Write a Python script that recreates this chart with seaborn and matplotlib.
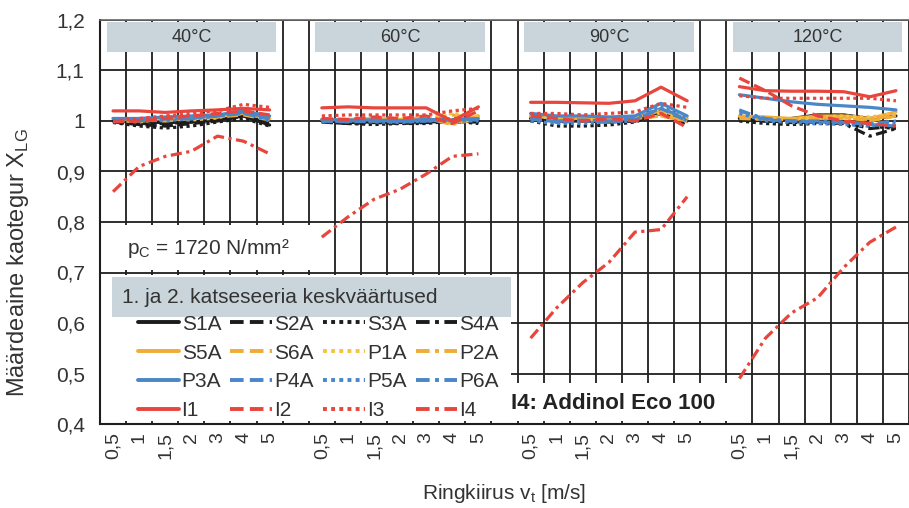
import numpy as np
import pandas as pd
import seaborn as sns
import matplotlib.pyplot as plt
from matplotlib.patches import Rectangle
from matplotlib.lines import Line2D

temps = ["40°C", "60°C", "90°C", "120°C"]
speeds = ["0,5", "1", "1,5", "2", "3", "4", "5"]
y_ticks = [0.4, 0.5, 0.6, 0.7, 0.8, 0.9, 1.0, 1.1, 1.2]
y_labels = ["0,4", "0,5", "0,6", "0,7", "0,8", "0,9", "1", "1,1", "1,2"]

# values: 7 speeds at 40, 60, 90, 120 °C
s1a = [1.0, 0.998, 0.997, 0.998, 1.002, 1.01, 0.992,
       1.0, 0.998, 0.998, 0.998, 0.998, 1.0, 1.0,
       1.005, 1.0, 1.0, 0.998, 1.0, 1.015, 1.0,
       1.005, 1.0, 1.005, 1.012, 1.012, 1.005, 1.01]
s2a = [0.998, 0.993, 0.99, 0.995, 1.0, 1.01, 0.995,
       0.998, 0.995, 0.997, 0.995, 0.997, 0.998, 0.998,
       1.01, 0.998, 1.0, 1.0, 1.0, 1.02, 0.995,
       1.01, 1.0, 0.998, 1.0, 0.998, 0.985, 0.99]
s3a = [0.997, 0.99, 0.986, 0.99, 0.998, 1.005, 0.99,
       0.998, 0.995, 0.993, 0.995, 0.995, 1.0, 0.995,
       1.0, 0.99, 0.99, 0.992, 0.998, 1.015, 0.993,
       1.0, 0.995, 0.993, 0.995, 0.995, 0.99, 0.985]
s4a = [1.0, 0.995, 0.995, 0.998, 1.003, 1.015, 0.99,
       1.0, 0.997, 0.998, 0.997, 1.0, 1.0, 1.0,
       1.005, 1.0, 1.002, 1.0, 1.005, 1.02, 0.99,
       1.003, 1.0, 0.997, 0.998, 0.995, 0.97, 0.985]
s5a = [1.005, 1.002, 1.005, 1.008, 1.01, 1.015, 1.005,
       1.003, 1.003, 1.005, 1.003, 1.005, 0.995, 1.01,
       1.01, 1.005, 1.005, 1.005, 1.008, 1.02, 1.005,
       1.01, 1.008, 1.005, 1.01, 1.01, 1.005, 1.018]
s6a = [1.0, 1.003, 1.0, 1.005, 1.008, 1.012, 1.002,
       1.002, 1.0, 1.003, 1.002, 1.003, 1.012, 1.005,
       1.005, 1.0, 1.005, 1.0, 1.005, 1.01, 1.0,
       1.005, 1.003, 1.003, 1.005, 1.008, 1.0, 1.01]
p1a = [1.002, 0.998, 1.005, 1.002, 1.006, 1.02, 1.008,
       1.005, 1.0, 1.005, 1.005, 1.008, 1.015, 1.01,
       1.01, 1.005, 1.0, 1.005, 1.005, 1.015, 1.005,
       1.012, 1.005, 1.003, 1.008, 1.01, 1.008, 1.015]
p2a = [1.0, 1.0, 1.002, 1.005, 1.008, 1.015, 1.005,
       1.0, 1.003, 1.0, 1.003, 1.005, 0.993, 1.005,
       1.005, 1.0, 1.005, 1.0, 1.005, 1.01, 1.0,
       1.008, 1.003, 1.002, 1.005, 1.005, 1.003, 1.012]
p3a = [1.005, 1.005, 1.008, 1.01, 1.012, 1.02, 1.01,
       1.003, 1.002, 1.002, 1.0, 1.003, 1.002, 1.005,
       1.015, 1.01, 1.01, 1.008, 1.01, 1.035, 1.01,
       1.052, 1.045, 1.038, 1.033, 1.03, 1.027, 1.022]
p4a = [1.0, 1.0, 1.004, 1.006, 1.01, 1.015, 1.004,
       1.0, 0.998, 1.0, 0.998, 1.0, 1.003, 1.002,
       1.005, 0.998, 1.0, 0.998, 1.002, 1.025, 1.0,
       1.022, 1.002, 1.0, 0.998, 0.997, 0.993, 0.99]
p5a = [1.0, 1.004, 1.0, 1.005, 1.01, 1.018, 1.0,
       0.998, 1.0, 0.998, 0.997, 1.0, 1.0, 1.0,
       1.0, 0.995, 0.995, 0.998, 1.0, 1.03, 1.0,
       1.015, 1.0, 0.997, 0.995, 0.993, 0.99, 0.995]
p6a = [1.0, 1.0, 1.005, 1.004, 1.01, 1.016, 1.008,
       1.0, 1.0, 1.002, 1.0, 1.002, 1.005, 1.003,
       1.005, 1.0, 1.002, 1.0, 1.005, 1.025, 1.005,
       1.02, 1.005, 1.0, 1.0, 0.998, 0.995, 1.0]
i1 = [1.02, 1.02, 1.017, 1.02, 1.022, 1.025, 1.022,
      1.026, 1.028, 1.026, 1.026, 1.026, 1.0, 1.028,
      1.037, 1.037, 1.036, 1.035, 1.04, 1.067, 1.04,
      1.068, 1.06, 1.059, 1.059, 1.058, 1.048, 1.06]
i2 = [0.998, 1.0, 1.005, 1.01, 1.015, 1.02, 1.012,
      1.005, 1.003, 1.008, 1.005, 1.01, 0.995, 1.02,
      1.01, 1.005, 1.0, 1.005, 1.0, 1.015, 0.987,
      1.085, 1.06, 1.03, 1.01, 1.0, 0.995, 0.99]
i3 = [1.0, 1.005, 1.01, 1.015, 1.02, 1.033, 1.027,
      1.01, 1.012, 1.012, 1.012, 1.012, 1.02, 1.025,
      1.015, 1.015, 1.012, 1.015, 1.018, 1.035, 1.027,
      1.05, 1.045, 1.045, 1.045, 1.045, 1.045, 1.04]
i4 = [0.86, 0.91, 0.93, 0.94, 0.97, 0.96, 0.935,
      0.77, 0.81, 0.845, 0.865, 0.895, 0.93, 0.935,
      0.57, 0.63, 0.68, 0.72, 0.78, 0.785, 0.85,
      0.49, 0.57, 0.62, 0.65, 0.71, 0.76, 0.79]

names = ["S1A", "S2A", "S3A", "S4A", "S5A", "S6A", "P1A", "P2A",
         "P3A", "P4A", "P5A", "P6A", "I1", "I2", "I3", "I4"]
series = [s1a, s2a, s3a, s4a, s5a, s6a, p1a, p2a,
          p3a, p4a, p5a, p6a, i1, i2, i3, i4]

rows = []
for name, vals in zip(names, series):
    for t, temp in enumerate(temps):
        for i in range(len(speeds)):
            rows.append({"series": name, "temp": temp, "pos": t * 8 + i,
                         "X": vals[t * 7 + i]})
df = pd.DataFrame(rows)

black, orange, yellow, blue, red = "#1c1c1c", "#f0ac36", "#f3c443", "#4a86c8", "#e8453c"
palette = dict(zip(names, [black] * 4 + [orange, orange, yellow, orange] + [blue] * 4 + [red] * 4))
solid, dash, dot, dashdot = "", (3.5, 1.6), (1.0, 1.1), (3.5, 1.4, 1.0, 1.4)
dashes = dict(zip(names, [solid, dash, dot, dashdot] * 4))

sns.set_style("white")
plt.rcParams["font.family"] = ["Liberation Sans", "DejaVu Sans"]
text_col = "#333333"
box_col = "#c9d5db"
grid_col = "#1e1e1e"

fig = plt.figure(figsize=(9.09, 5.08), dpi=100)
ax = fig.add_axes([100 / 909, 84 / 508, 809 / 909, 404 / 508])

sns.lineplot(data=df, x="pos", y="X", hue="series", style="series", units="temp",
             estimator=None, palette=palette, dashes=dashes, hue_order=names,
             style_order=names, linewidth=2.3, legend=False, ax=ax, zorder=3)

ax.set_xlim(-0.5, -0.5 + 809 / 26.17)
ax.set_ylim(0.4, 1.2)

# category axis: labels at the centres, grid lines between the categories
centres = [t * 8 + i for t in range(len(temps)) for i in range(len(speeds))]
ax.set_xticks(centres)
ax.set_xticklabels(speeds * len(temps), rotation=90, fontsize=14, color=text_col)
ax.set_xticks(np.arange(-0.5, 31, 1), minor=True)
ax.tick_params(axis="x", which="major", length=0, pad=6)
ax.tick_params(axis="x", which="minor", length=5, width=1.2, direction="inout", color=grid_col)
ax.set_yticks(y_ticks)
ax.set_yticklabels(y_labels, fontsize=15, color=text_col)
ax.tick_params(axis="y", length=5, width=1.2, direction="out", color=grid_col, pad=6)

ax.grid(which="minor", axis="x", color=grid_col, linewidth=1.3)
ax.grid(which="major", axis="y", color=grid_col, linewidth=1.3)
ax.grid(which="major", axis="x", visible=False)
for side in ["left", "bottom"]:
    ax.spines[side].set_color(grid_col)
    ax.spines[side].set_linewidth(1.5)
ax.spines["top"].set_color("#666666")
ax.spines["top"].set_linewidth(1.2)
ax.spines["right"].set_visible(False)

# temperature headers
for t, temp in enumerate(temps):
    ax.add_patch(Rectangle((t * 8 - 0.25, 1.137), 6.5, 0.059, facecolor=box_col,
                           edgecolor="none", zorder=2))
    ax.text(t * 8 + 3, 1.166, temp, ha="center", va="center", fontsize=13,
            color=text_col, zorder=4)

# pressure note
ax.add_patch(Rectangle((-0.5, 0.705), 8.2, 0.09, facecolor="white", edgecolor="none", zorder=2))
ax.text(0.55, 0.748, "p$_\\mathregular{C}$ = 1720 N/mm²", ha="left", va="center",
        fontsize=15, color=text_col, zorder=4)

# legend block
ax.add_patch(Rectangle((-0.5, 0.405), 15.75, 0.29, facecolor="white", edgecolor="none", zorder=2))
ax.add_patch(Rectangle((-0.04, 0.612), 15.28, 0.079, facecolor=box_col, edgecolor="none", zorder=2))
ax.text(0.35, 0.651, "1. ja 2. katseseeria keskväärtused", ha="left", va="center",
        fontsize=15, color=text_col, zorder=4)

order = [0, 4, 8, 12, 1, 5, 9, 13, 2, 6, 10, 14, 3, 7, 11, 15]
handles = []
for k in order:
    name = names[k]
    h = Line2D([], [], color=palette[name], linewidth=2.8)
    if dashes[name]:
        h.set_dashes(dashes[name])
    handles.append(h)
leg = ax.legend(handles, [names[k] for k in order], ncol=4, loc="upper left",
                bbox_to_anchor=(0.55, 0.637), bbox_transform=ax.transData,
                frameon=False, fontsize=15, handlelength=2.0, handletextpad=0.1,
                columnspacing=0.45, labelspacing=0.47, borderpad=0)
leg.set_zorder(5)
for txt in leg.get_texts():
    txt.set_color(text_col)

# lubricant note
ax.add_patch(Rectangle((14.98, 0.405), 9.15, 0.077, facecolor="white", edgecolor="none", zorder=2))
ax.text(15.24, 0.44, "I4: Addinol Eco 100", ha="left", va="center", fontsize=16,
        fontweight="bold", color="#222222", zorder=4)

ax.set_xlabel("Ringkiirus v$_\\mathregular{t}$ [m/s]", fontsize=15, color=text_col)
ax.xaxis.set_label_coords(0.5, -0.143)
ax.set_ylabel("Määrdeaine kaotegur X$_\\mathregular{LG}$", fontsize=17, color=text_col)
ax.yaxis.set_label_coords(-0.085, 0.40)

fig.savefig("out.png", dpi=100)
